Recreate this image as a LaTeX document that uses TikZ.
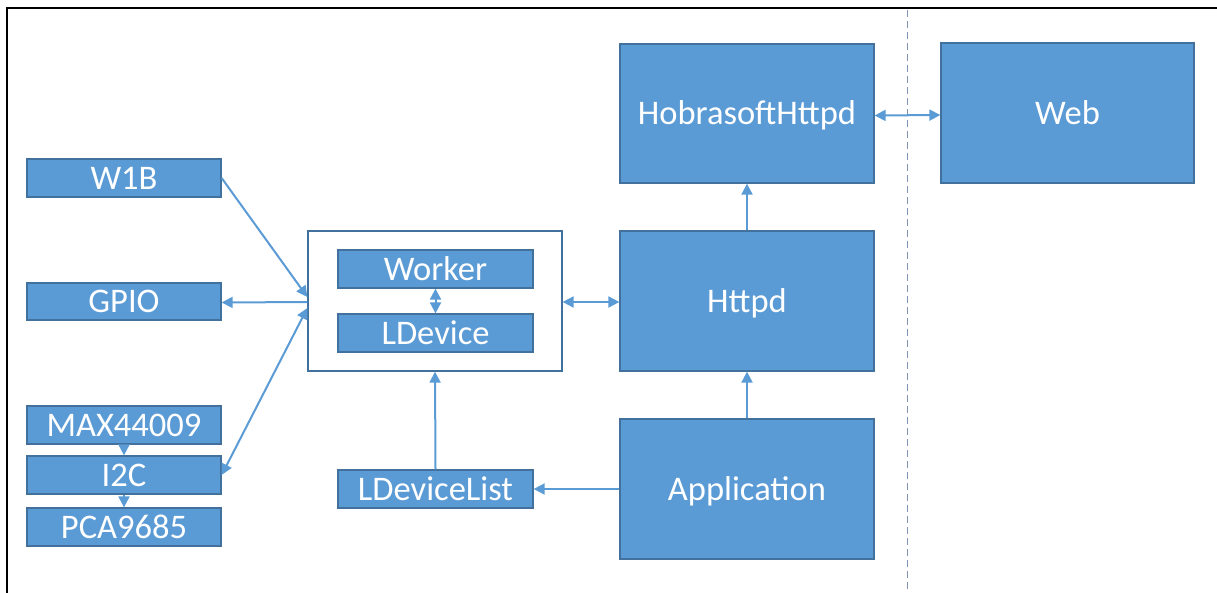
\documentclass[tikz,border=0pt]{standalone}
\usepackage{fontspec}
\setmainfont{Carlito}
\usetikzlibrary{arrows.meta}
\definecolor{fillblue}{HTML}{5B9BD5}
\definecolor{edgeblue}{HTML}{41719C}
\definecolor{dashcol}{HTML}{7F93B5}
\begin{document}
\begin{tikzpicture}[x=1pt,y=-1pt,
  blk/.style={draw=edgeblue,line width=1.3pt,fill=fillblue,text=white,inner sep=0pt,
    font=\fontsize{34.5}{38}\selectfont,text height=22.2pt,text depth=0pt},
  cont/.style={draw=edgeblue,line width=1.3pt,fill=white,inner sep=0pt},
  conn/.style={draw=fillblue,line width=2pt},
  tip/.style={-{Triangle[length=11pt,width=11pt]}},
  both/.style={{Triangle[length=11pt,width=11pt]}-{Triangle[length=11pt,width=11pt]}}]
\useasboundingbox (0,0) rectangle (1217,592);
% frame
\draw[line width=2.6pt,black] (7,600) -- (7,8) -- (1225,8);
\draw[dashcol,line width=1pt,dash pattern=on 7pt off 4pt] (907,10) -- (907,600);
% left column
\node[blk,minimum width=194,minimum height=38] (w1b) at (124,178) {W1B};
\node[blk,minimum width=194,minimum height=37] (gpio) at (124,301.5) {GPIO};
\node[blk,minimum width=194,minimum height=38] (max) at (124,425) {MAX44009};
\node[blk,minimum width=194,minimum height=38] (i2c) at (124,475) {I2C};
\node[blk,minimum width=194,minimum height=38] (pca) at (124,527) {PCA9685};
% container
\node[cont,minimum width=254,minimum height=140] (box) at (435,301) {};
\node[blk,minimum width=195,minimum height=38] (worker) at (435.5,269) {Worker};
\node[blk,minimum width=195,minimum height=38] (ldev) at (435.5,333) {LDevice};
\node[blk,minimum width=195,minimum height=38] (ldl) at (435.5,489) {LDeviceList};
% right
\node[blk,minimum width=254,minimum height=139] (hob) at (747,113.5) {HobrasoftHttpd};
\node[blk,minimum width=254,minimum height=140] (httpd) at (747,301) {Httpd};
\node[blk,minimum width=254,minimum height=140] (app) at (747,489) {Application};
\node[blk,minimum width=253,minimum height=140] (web) at (1067.5,113) {Web};
% connectors
\draw[conn,tip] (w1b.east) -- ([yshift=4pt]box.west);
\draw[conn,tip] ([yshift=-1pt]box.west) -- ([yshift=-1pt]gpio.east);
\draw[conn,both] (i2c.east) -- ([yshift=-7pt]box.west);
\draw[conn,tip] (max.south) -- (i2c.north);
\draw[conn,tip] (i2c.south) -- (pca.north);
\draw[conn,both] (worker.south) -- (ldev.north);
\draw[conn,both] ([yshift=-1pt]box.east) -- ([yshift=-1pt]httpd.west);
\draw[conn,tip] (httpd.north) -- (hob.south);
\draw[conn,both] ([yshift=-2pt]hob.east) -- ([yshift=-2pt]web.west);
\draw[conn,tip] (app.north) -- (httpd.south);
\draw[conn,tip] (app.west) -- (ldl.east);
\draw[conn,tip] (ldl.north) -- (box.south);
\end{tikzpicture}
\end{document}
